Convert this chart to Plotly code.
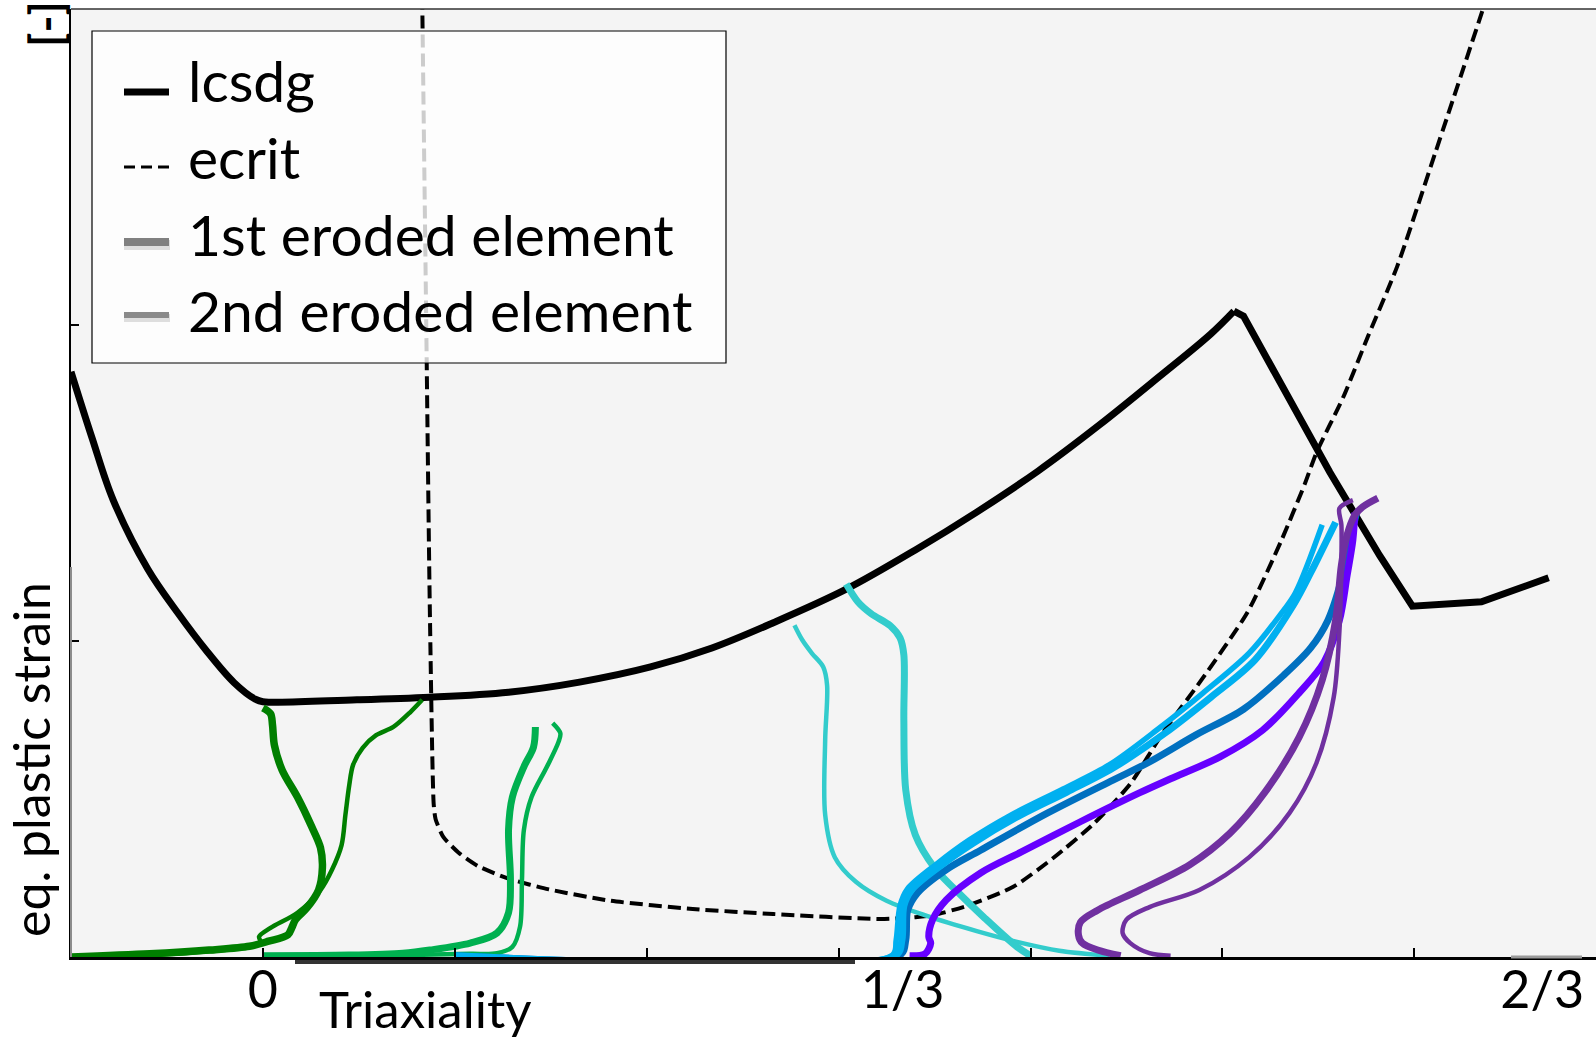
import plotly.graph_objects as go

# ---------------------------------------------------------------------------
# Failure curves (triaxiality vs. equivalent plastic strain)
# ---------------------------------------------------------------------------
lcsdg_x = [-0.100, -0.089, -0.078, -0.060, -0.044, -0.029, -0.015, -0.004, 0.000, 0.049,
           0.087, 0.128, 0.165, 0.202, 0.234, 0.266, 0.304, 0.340, 0.372, 0.404,
           0.436, 0.467, 0.494, 0.506, 0.511, 0.556, 0.582, 0.599, 0.635, 0.670]
lcsdg_y = [0.926, 0.821, 0.723, 0.614, 0.543, 0.483, 0.434, 0.408, 0.404, 0.407,
           0.411, 0.419, 0.435, 0.459, 0.489, 0.529, 0.582, 0.644, 0.704, 0.769,
           0.842, 0.918, 0.986, 1.022, 1.014, 0.767, 0.635, 0.555, 0.562, 0.600]
LCSDG_PEAK = 23  # smooth branch ends at the peak, piecewise-linear after it

ecrit_x = [0.083, 0.085, 0.087, 0.089, 0.090, 0.094, 0.102, 0.112, 0.128, 0.149,
           0.181, 0.224, 0.266, 0.322, 0.340, 0.349, 0.367, 0.391, 0.412, 0.433,
           0.452, 0.469, 0.489, 0.513, 0.531, 0.543, 0.549, 0.563, 0.576, 0.591,
           0.611, 0.638]
ecrit_y = [1.520, 1.031, 0.548, 0.242, 0.218, 0.190, 0.165, 0.144, 0.124, 0.107,
           0.089, 0.076, 0.068, 0.060, 0.063, 0.066, 0.081, 0.111, 0.157, 0.211,
           0.274, 0.355, 0.438, 0.545, 0.661, 0.749, 0.798, 0.886, 0.983, 1.092,
           1.273, 1.520]

# ---------------------------------------------------------------------------
# Load paths of the eroded elements (one colour per specimen)
# ---------------------------------------------------------------------------
dg1_x = [-0.100, -0.059, -0.028, -0.007, 0.003, 0.013, 0.015, 0.017, 0.023, 0.029,
         0.031, 0.030, 0.025, 0.018, 0.010, 0.006, 0.005, 0.004, 0.000]
dg1_y = [0.000, 0.005, 0.011, 0.017, 0.025, 0.035, 0.046, 0.059, 0.078, 0.106,
         0.141, 0.173, 0.209, 0.253, 0.296, 0.335, 0.367, 0.385, 0.394]
dg2_x = [-0.100, -0.059, -0.028, -0.007, -0.001, -0.002, 0.004, 0.018, 0.030, 0.036,
         0.041, 0.043, 0.045, 0.047, 0.052, 0.059, 0.068, 0.077, 0.083]
dg2_y = [0.000, 0.003, 0.009, 0.016, 0.022, 0.032, 0.046, 0.070, 0.106, 0.138,
         0.177, 0.225, 0.272, 0.304, 0.331, 0.351, 0.364, 0.388, 0.407]

lg1_x = [0.000, 0.045, 0.073, 0.087, 0.108, 0.122, 0.128, 0.129, 0.128, 0.130, 0.136, 0.141, 0.142]
lg1_y = [0.002, 0.003, 0.006, 0.011, 0.022, 0.038, 0.070, 0.122, 0.201, 0.253, 0.301, 0.332, 0.364]
lg2_x = [0.000, 0.071, 0.108, 0.122, 0.130, 0.134, 0.135, 0.136, 0.140, 0.148, 0.154, 0.155, 0.151]
lg2_y = [0.002, 0.003, 0.005, 0.006, 0.016, 0.048, 0.122, 0.201, 0.253, 0.301, 0.340, 0.354, 0.370]

cy1_x = [0.400, 0.393, 0.376, 0.361, 0.350, 0.340, 0.335, 0.334, 0.334, 0.332, 0.327, 0.317, 0.310, 0.304]
cy1_y = [0.002, 0.016, 0.062, 0.106, 0.141, 0.193, 0.264, 0.375, 0.478, 0.505, 0.524, 0.543, 0.562, 0.590]
cy2_x = [0.441, 0.415, 0.393, 0.372, 0.346, 0.325, 0.309, 0.298, 0.293, 0.293, 0.294, 0.292, 0.286, 0.281, 0.277]
cy2_y = [0.002, 0.010, 0.024, 0.041, 0.065, 0.089, 0.119, 0.158, 0.225, 0.343, 0.430, 0.459, 0.481, 0.502, 0.525]

lb1_x = [0.100, 0.330, 0.333, 0.334, 0.338, 0.353, 0.370, 0.392, 0.419, 0.443, 0.470, 0.494, 0.517, 0.537, 0.546, 0.559]
lb1_y = [0.002, 0.003, 0.027, 0.081, 0.106, 0.144, 0.180, 0.220, 0.261, 0.299, 0.354, 0.411, 0.470, 0.557, 0.608, 0.688]
lb2_x = [0.100, 0.328, 0.330, 0.332, 0.336, 0.351, 0.368, 0.390, 0.417, 0.441, 0.467, 0.490, 0.514, 0.530, 0.538, 0.552]
lb2_y = [0.002, 0.003, 0.027, 0.081, 0.108, 0.147, 0.185, 0.225, 0.266, 0.304, 0.362, 0.418, 0.481, 0.541, 0.576, 0.684]

bl_x = [0.100, 0.332, 0.335, 0.336, 0.341, 0.356, 0.374, 0.409, 0.443, 0.461, 0.486, 0.511, 0.532, 0.546, 0.555, 0.562, 0.566, 0.570]
bl_y = [0.002, 0.003, 0.027, 0.074, 0.101, 0.138, 0.169, 0.228, 0.280, 0.307, 0.351, 0.392, 0.446, 0.489, 0.533, 0.597, 0.655, 0.703]

vi_x = [0.337, 0.345, 0.348, 0.347, 0.349, 0.356, 0.374, 0.395, 0.426, 0.457, 0.473, 0.499, 0.521, 0.540, 0.553, 0.561, 0.565, 0.568, 0.569]
vi_y = [0.002, 0.005, 0.022, 0.032, 0.059, 0.090, 0.133, 0.166, 0.214, 0.260, 0.282, 0.317, 0.359, 0.418, 0.467, 0.533, 0.604, 0.660, 0.703]

pu1_x = [0.447, 0.435, 0.427, 0.425, 0.426, 0.435, 0.457, 0.483, 0.504, 0.522, 0.540, 0.552, 0.559, 0.562, 0.565, 0.569, 0.573, 0.581]
pu1_y = [0.002, 0.011, 0.022, 0.035, 0.055, 0.074, 0.106, 0.146, 0.196, 0.260, 0.348, 0.438, 0.533, 0.620, 0.668, 0.699, 0.712, 0.726]
pu2_x = [0.473, 0.462, 0.452, 0.448, 0.450, 0.462, 0.488, 0.514, 0.535, 0.549, 0.558, 0.561, 0.562, 0.562, 0.561, 0.568]
pu2_y = [0.002, 0.006, 0.022, 0.038, 0.059, 0.079, 0.106, 0.158, 0.228, 0.307, 0.411, 0.517, 0.628, 0.684, 0.710, 0.723]

# axis ticks
x_tick_vals = [0, 1 / 3, 2 / 3]
x_tick_text = ["0", "1/3", "2/3"]
x_minor_vals = [0.0, 0.1, 0.2, 0.3, 0.4, 0.5, 0.6]
y_tick_vals = [0.5, 1.0]

legend_labels = ["lcsdg", "ecrit", "1st eroded element", "2nd eroded element"]

# ---------------------------------------------------------------------------
W, H = 1596, 1041
ML, MR, MT, MB = 71, 0, 9, 84
PW, PH = W - ML - MR, H - MT - MB
FONT = "Lato, sans-serif"


def px(xp):
    """pixel column -> paper x"""
    return (xp - ML) / PW


def py(yp):
    """pixel row -> paper y"""
    return (H - MB - yp) / PH


THICK, THIN = 7, 4.5

paths = [
    (dg1_x, dg1_y, "#007f00", THICK + 0.5),
    (dg2_x, dg2_y, "#007f00", THIN),
    (lg1_x, lg1_y, "#00b050", THICK),
    (lg2_x, lg2_y, "#00b050", THIN),
    (cy2_x, cy2_y, "#33cccc", THIN),
    (cy1_x, cy1_y, "#33cccc", THICK),
    (lb2_x, lb2_y, "#00b0f0", THIN + 1),
    (bl_x, bl_y, "#0070c0", THICK),
    (lb1_x, lb1_y, "#00b0f0", THICK),
    (vi_x, vi_y, "#6600ff", THICK),
    (pu2_x, pu2_y, "#7030a0", THIN),
    (pu1_x, pu1_y, "#7030a0", THICK),
]

fig = go.Figure()

# lcsdg: smooth rising branch, then straight segments past the peak
fig.add_trace(go.Scatter(x=lcsdg_x[:LCSDG_PEAK + 1], y=lcsdg_y[:LCSDG_PEAK + 1],
                         mode="lines", name=legend_labels[0], legendgroup="lcsdg",
                         line=dict(color="black", width=7, shape="spline", smoothing=1.0),
                         showlegend=False, hoverinfo="skip"))
fig.add_trace(go.Scatter(x=lcsdg_x[LCSDG_PEAK:], y=lcsdg_y[LCSDG_PEAK:],
                         mode="lines", name=legend_labels[0], legendgroup="lcsdg",
                         line=dict(color="black", width=7, shape="linear"),
                         showlegend=False, hoverinfo="skip"))
fig.add_trace(go.Scatter(x=ecrit_x, y=ecrit_y, mode="lines", name=legend_labels[1],
                         line=dict(color="black", width=4, dash="13px,6px",
                                   shape="spline", smoothing=0.6),
                         showlegend=False, hoverinfo="skip"))

for xs, ys, col, w in paths:
    fig.add_trace(go.Scatter(x=xs, y=ys, mode="lines",
                             line=dict(color=col, width=w, shape="spline", smoothing=0.9),
                             showlegend=False, hoverinfo="skip"))

shapes = []
# frame details
shapes.append(dict(type="line", xref="paper", yref="paper", x0=0, x1=1, y0=1, y1=1,
                   line=dict(color="#333333", width=1.5), layer="above"))
shapes.append(dict(type="line", xref="paper", yref="paper", x0=0, x1=0,
                   y0=0, y1=py(567), line=dict(color="#8c8c8c", width=2), layer="above"))
shapes.append(dict(type="rect", xref="paper", yref="paper", x0=px(295), x1=px(855),
                   y0=py(964), y1=py(958), fillcolor="rgba(0,0,0,0.8)",
                   line=dict(width=0), layer="above"))
shapes.append(dict(type="line", xref="paper", yref="paper", x0=px(1511), x1=px(1582),
                   y0=0, y1=0, line=dict(color="#9a9a9a", width=3), layer="above"))

# legend box
shapes.append(dict(type="rect", xref="paper", yref="paper",
                   x0=px(92), x1=px(726), y0=py(363), y1=py(31),
                   fillcolor="rgba(255,255,255,0.8)", line=dict(color="black", width=1.2),
                   layer="above"))

row_line = [92, 167, 242, 315]
row_text = [80, 157, 234, 310]
sym_styles = [
    dict(color="black", width=7),
    dict(color="black", width=3, dash="11px,6px"),
    dict(color="#808080", width=8),
    dict(color="#8a8a8a", width=6),
]
for i, (yl, st) in enumerate(zip(row_line, sym_styles)):
    if i >= 2:
        shapes.append(dict(type="line", xref="paper", yref="paper",
                           x0=px(124), x1=px(170), y0=py(yl + 3), y1=py(yl + 3),
                           line=dict(color="rgba(0,0,0,0.12)", width=st["width"] + 2),
                           layer="above"))
    shapes.append(dict(type="line", xref="paper", yref="paper",
                       x0=px(124), x1=px(169), y0=py(yl), y1=py(yl),
                       line=st, layer="above"))

annotations = []
for lab, yt in zip(legend_labels, row_text):
    annotations.append(dict(text=lab, xref="paper", yref="paper", x=px(186), y=py(yt),
                            xanchor="left", yanchor="middle", showarrow=False,
                            font=dict(family=FONT, size=57, color="black")))

annotations.append(dict(text="eq. plastic strain", xref="paper", yref="paper",
                        x=px(31), y=py(760), xanchor="center", yanchor="middle",
                        textangle=-90, showarrow=False,
                        font=dict(family=FONT, size=50, color="black")))
annotations.append(dict(text="Triaxiality", xref="paper", yref="paper",
                        x=px(425), y=py(1041), xanchor="center", yanchor="bottom",
                        showarrow=False, font=dict(family=FONT, size=51, color="black")))
annotations.append(dict(text="<b>[-]</b>", xref="paper", yref="paper",
                        x=px(46), y=py(24), xanchor="center", yanchor="middle",
                        textangle=-90, showarrow=False,
                        font=dict(family=FONT, size=46, color="black")))

fig.update_layout(
    width=W, height=H,
    margin=dict(l=ML, r=MR, t=MT, b=MB, pad=0),
    paper_bgcolor="white",
    plot_bgcolor="#f4f4f4",
    showlegend=False,
    font=dict(family=FONT, color="black"),
    shapes=shapes,
    annotations=annotations,
    xaxis=dict(
        range=[-0.1, (W - MR - ML) / 1919 - 0.1],
        tickvals=x_tick_vals, ticktext=x_tick_text,
        ticks="", showgrid=False, zeroline=False,
        showline=True, linecolor="black", linewidth=3,
        tickfont=dict(family=FONT, size=52, color="black"),
        ticklabelstandoff=-14,
        minor=dict(tickvals=x_minor_vals, ticks="inside", ticklen=9,
                   tickwidth=2, tickcolor="black", showgrid=False),
    ),
    yaxis=dict(
        range=[0, 1.5],
        tickvals=y_tick_vals, showticklabels=False,
        ticks="inside", ticklen=8, tickwidth=2, tickcolor="black",
        showgrid=False, zeroline=False,
        showline=True, linecolor="black", linewidth=2,
    ),
)

fig.write_html("out.html")
